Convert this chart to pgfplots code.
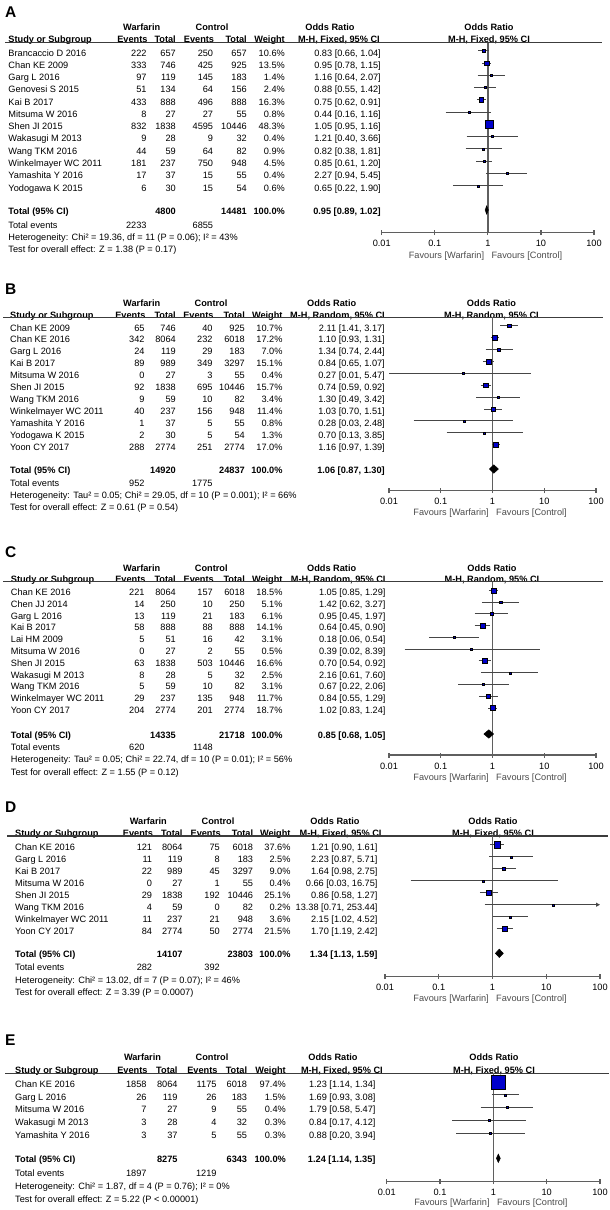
\documentclass[border=0pt]{standalone}
\usepackage{fontspec}
\setmainfont{Liberation Sans}
\usepackage{pgfplots}
\pgfplotsset{compat=1.18}
\usetikzlibrary{arrows.meta}
\definecolor{sqblue}{RGB}{0,0,204}
\definecolor{cigray}{RGB}{70,70,70}
\definecolor{axgray}{RGB}{95,95,95}
\definecolor{rulegray}{RGB}{60,60,60}
\definecolor{favgray}{RGB}{75,75,75}
\newcommand\fs{\fontsize{9.2}{11}\selectfont}
\newcommand\cols[7]{\def\cN{#1}\def\cEa{#2}\def\cTa{#3}\def\cEb{#4}\def\cTb{#5}\def\cW{#6}\def\cCI{#7}}
\newcommand\heads[8]{%
 \node[anchor=base, font=\fs\bfseries] at (#3,#1+3.3) {Warfarin};
 \node[anchor=base, font=\fs\bfseries] at (#4,#1+3.3) {Control};
 \node[anchor=base, font=\fs\bfseries] at (#5,#1+3.3) {Odds Ratio};
 \node[anchor=base, font=\fs\bfseries] at (#7,#1+3.3) {Odds Ratio};
 \node[anchor=base west, font=\fs\bfseries] at (\cN,#2+3.3) {Study or Subgroup};
 \node[anchor=base east, font=\fs\bfseries] at (\cEa+1,#2+3.3) {Events};
 \node[anchor=base east, font=\fs\bfseries] at (\cTa,#2+3.3) {Total};
 \node[anchor=base east, font=\fs\bfseries] at (\cEb+1,#2+3.3) {Events};
 \node[anchor=base east, font=\fs\bfseries] at (\cTb,#2+3.3) {Total};
 \node[anchor=base east, font=\fs\bfseries] at (\cW,#2+3.3) {Weight};
 \node[anchor=base east, font=\fs\bfseries] at (#6,#2+3.3) {M-H, #8, 95\% CI};
 \node[anchor=base, font=\fs\bfseries] at (#7,#2+3.3) {M-H, #8, 95\% CI};
}
\newcommand\row[8]{%
 \node[anchor=base west] at (\cN,#1+3.3) {#2};
 \node[anchor=base east] at (\cEa,#1+3.3) {#3};
 \node[anchor=base east] at (\cTa,#1+3.3) {#4};
 \node[anchor=base east] at (\cEb,#1+3.3) {#5};
 \node[anchor=base east] at (\cTb,#1+3.3) {#6};
 \node[anchor=base east] at (\cW,#1+3.3) {#7\%};
 \node[anchor=base east] at (\cCI,#1+3.3) {#8};
}
\newcommand\tot[4]{%
 \node[anchor=base west, font=\fs\bfseries] at (\cN,#1+3.3) {Total (95\% CI)};
 \node[anchor=base east, font=\fs\bfseries] at (\cTa,#1+3.3) {#2};
 \node[anchor=base east, font=\fs\bfseries] at (\cTb,#1+3.3) {#3};
 \node[anchor=base east, font=\fs\bfseries] at (\cW,#1+3.3) {100.0\%};
 \node[anchor=base east, font=\fs\bfseries] at (\cCI,#1+3.3) {#4};
}
\newcommand\tev[3]{%
 \node[anchor=base west] at (\cN,#1+3.3) {Total events};
 \node[anchor=base east] at (\cEa,#1+3.3) {#2};
 \node[anchor=base east] at (\cEb,#1+3.3) {#3};
}
\newcommand\txt[2]{\node[anchor=base west] at (\cN,#1+3.3) {#2};}
\newcommand\fav[2]{%
 \node[anchor=base east, text=favgray] at (#1-3.5,#2+3.3) {Favours [Warfarin]};
 \node[anchor=base west, text=favgray] at (#1+3.5,#2+3.3) {Favours [Control]};
}
\newcommand\plab[3]{\node[anchor=west, font=\fontsize{15.5}{16}\selectfont\bfseries] at (#1,#2) {#3};}
\newcommand\fp[5]{%
 \pgfmathsetmacro\yy{2-#1}%
 \edef\tmp{\noexpand\addplot[no markers, draw=cigray, line width=0.9pt] coordinates {(#3,\yy) (#4,\yy)};}\tmp
 \edef\tmp{\noexpand\addplot[only marks, mark=square*, mark options={draw=none, fill=sqblue}, mark size=#5pt] coordinates {(#2,\yy)};}\tmp
}
\newcommand\fparrow[5]{%
 \pgfmathsetmacro\yy{2-#1}%
 \edef\tmp{\noexpand\addplot[no markers, draw=cigray, line width=0.9pt, -{Triangle[length=4pt,width=4pt]}] coordinates {(#3,\yy) (#4,\yy)};}\tmp
 \edef\tmp{\noexpand\addplot[only marks, mark=square*, mark options={draw=none, fill=sqblue}, mark size=#5pt] coordinates {(#2,\yy)};}\tmp
}
\newcommand\dia[4]{%
 \pgfmathsetmacro\yy{1-#1}\pgfmathsetmacro\yt{\yy+4.2}\pgfmathsetmacro\yb{\yy-4.2}%
 \edef\tmp{\noexpand\addplot[no markers, fill=black, draw=black, line width=0.5pt] coordinates {(#3,\yy) (#2,\yt) (#4,\yy) (#2,\yb) (#3,\yy)};}\tmp
}
\newcommand\oneline[2]{\addplot[no markers, draw=axgray, line width=1.3pt] coordinates {(1,#1) (1,#2)};}
\begin{document}
\begin{tikzpicture}
\path[use as bounding box] (0pt,0pt) rectangle (610pt,-1210pt);
\begin{scope}[x=1pt, y=-1pt, font=\fs, every node/.style={inner sep=0pt}]
% ---------------- Panel A
\plab{5}{11.7}{A}
\cols{8.3}{146.7}{176}{213.3}{247}{285}{381}
\heads{26.7}{39.3}{141.7}{212}{330}{380}{489}{Fixed}
\draw[rulegray, line width=1.3pt] (5,42.5) -- (602,42.5);
\row{52.7}{Brancaccio D 2016}{222}{657}{250}{657}{10.6}{0.83 [0.66, 1.04]}
\row{65.0}{Chan KE 2009}{333}{746}{425}{925}{13.5}{0.95 [0.78, 1.15]}
\row{77.2}{Garg L 2016}{97}{119}{145}{183}{1.4}{1.16 [0.64, 2.07]}
\row{89.5}{Genovesi S 2015}{51}{134}{64}{156}{2.4}{0.88 [0.55, 1.42]}
\row{101.8}{Kai B 2017}{433}{888}{496}{888}{16.3}{0.75 [0.62, 0.91]}
\row{114.0}{Mitsuma W 2016}{8}{27}{27}{55}{0.8}{0.44 [0.16, 1.16]}
\row{126.3}{Shen JI 2015}{832}{1838}{4595}{10446}{48.3}{1.05 [0.95, 1.16]}
\row{138.6}{Wakasugi M 2013}{9}{28}{9}{32}{0.4}{1.21 [0.40, 3.66]}
\row{150.9}{Wang TKM 2016}{44}{59}{64}{82}{0.9}{0.82 [0.38, 1.81]}
\row{163.1}{Winkelmayer WC 2011}{181}{237}{750}{948}{4.5}{0.85 [0.61, 1.20]}
\row{175.4}{Yamashita Y 2016}{17}{37}{15}{55}{0.4}{2.27 [0.94, 5.45]}
\row{187.7}{Yodogawa K 2015}{6}{30}{15}{54}{0.6}{0.65 [0.22, 1.90]}
\tot{211}{4800}{14481}{0.95 [0.89, 1.02]}
\tev{224.7}{2233}{6855}
\txt{237}{Heterogeneity: Chi² = 19.36, df = 11 (P = 0.06); I² = 43\%}
\txt{249.3}{Test for overall effect: Z = 1.38 (P = 0.17)}
\fav{487.85}{255}
% ---------------- Panel B
\plab{5}{289}{B}
\cols{10}{144.7}{176}{212.7}{245}{282.7}{385}
\heads{302.7}{315}{141.7}{211}{331.7}{385}{491.5}{Random}
\draw[rulegray, line width=1.3pt] (3,317.3) -- (603,317.3);
\row{327.7}{Chan KE 2009}{65}{746}{40}{925}{10.7}{2.11 [1.41, 3.17]}
\row{339.6}{Chan KE 2016}{342}{8064}{232}{6018}{17.2}{1.10 [0.93, 1.31]}
\row{351.5}{Garg L 2016}{24}{119}{29}{183}{7.0}{1.34 [0.74, 2.44]}
\row{363.4}{Kai B 2017}{89}{989}{349}{3297}{15.1}{0.84 [0.65, 1.07]}
\row{375.3}{Mitsuma W 2016}{0}{27}{3}{55}{0.4}{0.27 [0.01, 5.47]}
\row{387.2}{Shen JI 2015}{92}{1838}{695}{10446}{15.7}{0.74 [0.59, 0.92]}
\row{399.1}{Wang TKM 2016}{9}{59}{10}{82}{3.4}{1.30 [0.49, 3.42]}
\row{411.0}{Winkelmayer WC 2011}{40}{237}{156}{948}{11.4}{1.03 [0.70, 1.51]}
\row{422.9}{Yamashita Y 2016}{1}{37}{5}{55}{0.8}{0.28 [0.03, 2.48]}
\row{434.8}{Yodogawa K 2015}{2}{30}{5}{54}{1.3}{0.70 [0.13, 3.85]}
\row{446.7}{Yoon CY 2017}{288}{2774}{251}{2774}{17.0}{1.16 [0.97, 1.39]}
\tot{470}{14920}{24837}{1.06 [0.87, 1.30]}
\tev{483.3}{952}{1775}
\txt{495}{Heterogeneity: Tau² = 0.05; Chi² = 29.05, df = 10 (P = 0.001); I² = 66\%}
\txt{506.7}{Test for overall effect: Z = 0.61 (P = 0.54)}
\fav{492.5}{512.3}
% ---------------- Panel C
\plab{5}{552}{C}
\cols{10.7}{144.7}{176}{213}{245}{282.7}{385.7}
\heads{567.7}{579.3}{141.7}{211.3}{331.7}{385.7}{492}{Random}
\draw[rulegray, line width=1.3pt] (3,581.7) -- (603,581.7);
\row{592.3}{Chan KE 2016}{221}{8064}{157}{6018}{18.5}{1.05 [0.85, 1.29]}
\row{604.1}{Chen JJ 2014}{14}{250}{10}{250}{5.1}{1.42 [0.62, 3.27]}
\row{615.8}{Garg L 2016}{13}{119}{21}{183}{6.1}{0.95 [0.45, 1.97]}
\row{627.6}{Kai B 2017}{58}{888}{88}{888}{14.1}{0.64 [0.45, 0.90]}
\row{639.4}{Lai HM 2009}{5}{51}{16}{42}{3.1}{0.18 [0.06, 0.54]}
\row{651.2}{Mitsuma W 2016}{0}{27}{2}{55}{0.5}{0.39 [0.02, 8.39]}
\row{662.9}{Shen JI 2015}{63}{1838}{503}{10446}{16.6}{0.70 [0.54, 0.92]}
\row{674.7}{Wakasugi M 2013}{8}{28}{5}{32}{2.5}{2.16 [0.61, 7.60]}
\row{686.5}{Wang TKM 2016}{5}{59}{10}{82}{3.1}{0.67 [0.22, 2.06]}
\row{698.2}{Winkelmayer WC 2011}{29}{237}{135}{948}{11.7}{0.84 [0.55, 1.29]}
\row{710.0}{Yoon CY 2017}{204}{2774}{201}{2774}{18.7}{1.02 [0.83, 1.24]}
\tot{735}{14335}{21718}{0.85 [0.68, 1.05]}
\tev{747.3}{620}{1148}
\txt{759.3}{Heterogeneity: Tau² = 0.05; Chi² = 22.74, df = 10 (P = 0.01); I² = 56\%}
\txt{772.3}{Test for overall effect: Z = 1.55 (P = 0.12)}
\fav{492.5}{776.7}
% ---------------- Panel D
\plab{5}{807.5}{D}
\cols{15}{152.3}{182.7}{220}{253.3}{290.7}{377.7}
\heads{820.7}{833.3}{148.3}{218}{335}{381.7}{493}{Fixed}
\draw[rulegray, line width=1.3pt] (7,836) -- (608,836);
\row{846.7}{Chan KE 2016}{121}{8064}{75}{6018}{37.6}{1.21 [0.90, 1.61]}
\row{858.7}{Garg L 2016}{11}{119}{8}{183}{2.5}{2.23 [0.87, 5.71]}
\row{870.7}{Kai B 2017}{22}{989}{45}{3297}{9.0}{1.64 [0.98, 2.75]}
\row{882.7}{Mitsuma W 2016}{0}{27}{1}{55}{0.4}{0.66 [0.03, 16.75]}
\row{894.7}{Shen JI 2015}{29}{1838}{192}{10446}{25.1}{0.86 [0.58, 1.27]}
\row{906.7}{Wang TKM 2016}{4}{59}{0}{82}{0.2}{13.38 [0.71, 253.44]}
\row{918.7}{Winkelmayer WC 2011}{11}{237}{21}{948}{3.6}{2.15 [1.02, 4.52]}
\row{930.7}{Yoon CY 2017}{84}{2774}{50}{2774}{21.5}{1.70 [1.19, 2.42]}
\tot{954.3}{14107}{23803}{1.34 [1.13, 1.59]}
\tev{967.3}{282}{392}
\txt{979.7}{Heterogeneity: Chi² = 13.02, df = 7 (P = 0.07); I² = 46\%}
\txt{991.7}{Test for overall effect: Z = 3.39 (P = 0.0007)}
\fav{492.5}{998}
% ---------------- Panel E
\plab{5}{1040.3}{E}
\cols{15}{146.7}{177.7}{216.7}{247.3}{286}{375.7}
\heads{1057.3}{1070}{142.5}{212}{333}{383}{494}{Fixed}
\draw[rulegray, line width=1.3pt] (5,1073.3) -- (609,1073.3);
\row{1084}{Chan KE 2016}{1858}{8064}{1175}{6018}{97.4}{1.23 [1.14, 1.34]}
\row{1096.75}{Garg L 2016}{26}{119}{26}{183}{1.5}{1.69 [0.93, 3.08]}
\row{1109.5}{Mitsuma W 2016}{7}{27}{9}{55}{0.4}{1.79 [0.58, 5.47]}
\row{1122.25}{Wakasugi M 2013}{3}{28}{4}{32}{0.3}{0.84 [0.17, 4.12]}
\row{1135}{Yamashita Y 2016}{3}{37}{5}{55}{0.3}{0.88 [0.20, 3.94]}
\tot{1159.3}{8275}{6343}{1.24 [1.14, 1.35]}
\tev{1172.7}{1897}{1219}
\txt{1185.7}{Heterogeneity: Chi² = 1.87, df = 4 (P = 0.76); I² = 0\%}
\txt{1199}{Test for overall effect: Z = 5.22 (P < 0.00001)}
\fav{493.3}{1201.7}
\end{scope}
% ================= forest axes
\begin{axis}[scale only axis, xmode=log, xmin=0.01, xmax=100, enlargelimits=false, clip=false,
  axis x line*=bottom, axis y line=none,
  xtick={0.01,0.1,1,10,100}, xticklabels={0.01,0.1,1,10,100}, xminorticks=false,
  tick align=center, major tick length=5pt,
  axis line style={draw=axgray, line width=1.3pt},
  tick style={draw=axgray, line width=1.2pt},
  xticklabel style={font=\fs, anchor=base, yshift=-11.5pt},
  anchor=south west,
  at={(381.7pt,-232.7pt)}, width=212.3pt, height=190.2pt, ymin=-232.7, ymax=-42.5]
\oneline{-232.7}{-42.5}
\fp{52.7}{0.83}{0.66}{1.04}{1.8}
\fp{65.0}{0.95}{0.78}{1.15}{2.05}
\fp{77.2}{1.16}{0.64}{2.07}{1.0}
\fp{89.5}{0.88}{0.55}{1.42}{1.0}
\fp{101.8}{0.75}{0.62}{0.91}{2.25}
\fp{114.0}{0.44}{0.16}{1.16}{1.0}
\fp{126.3}{1.05}{0.95}{1.16}{3.85}
\fp{138.6}{1.21}{0.40}{3.66}{1.0}
\fp{150.9}{0.82}{0.38}{1.81}{1.0}
\fp{163.1}{0.85}{0.61}{1.20}{1.2}
\fp{175.4}{2.27}{0.94}{5.45}{1.0}
\fp{187.7}{0.65}{0.22}{1.90}{1.0}
\dia{211}{0.95}{0.89}{1.02}
\end{axis}
\begin{axis}[scale only axis, xmode=log, xmin=0.01, xmax=100, enlargelimits=false, clip=false,
  axis x line*=bottom, axis y line=none,
  xtick={0.01,0.1,1,10,100}, xticklabels={0.01,0.1,1,10,100}, xminorticks=false,
  tick align=center, major tick length=5pt,
  axis line style={draw=axgray, line width=1.3pt},
  tick style={draw=axgray, line width=1.2pt},
  xticklabel style={font=\fs, anchor=base, yshift=-11.5pt},
  anchor=south west,
  at={(389pt,-490.5pt)}, width=207pt, height=173.2pt, ymin=-490.5, ymax=-317.3]
\oneline{-490.5}{-317.3}
\fp{327.7}{2.11}{1.41}{3.17}{1.95}
\fp{339.6}{1.10}{0.93}{1.31}{2.5}
\fp{351.5}{1.34}{0.74}{2.44}{1.6}
\fp{363.4}{0.84}{0.65}{1.07}{2.35}
\fp{375.3}{0.27}{0.01}{5.47}{1.0}
\fp{387.2}{0.74}{0.59}{0.92}{2.4}
\fp{399.1}{1.30}{0.49}{3.42}{1.1}
\fp{411.0}{1.03}{0.70}{1.51}{2.0}
\fp{422.9}{0.28}{0.03}{2.48}{1.0}
\fp{434.8}{0.70}{0.13}{3.85}{1.0}
\fp{446.7}{1.16}{0.97}{1.39}{2.5}
\dia{470}{1.06}{0.87}{1.30}
\end{axis}
\begin{axis}[scale only axis, xmode=log, xmin=0.01, xmax=100, enlargelimits=false, clip=false,
  axis x line*=bottom, axis y line=none,
  xtick={0.01,0.1,1,10,100}, xticklabels={0.01,0.1,1,10,100}, xminorticks=false,
  tick align=center, major tick length=5pt,
  axis line style={draw=axgray, line width=1.3pt},
  tick style={draw=axgray, line width=1.2pt},
  xticklabel style={font=\fs, anchor=base, yshift=-11.5pt},
  anchor=south west,
  at={(389pt,-755pt)}, width=207pt, height=173.3pt, ymin=-755, ymax=-581.7]
\oneline{-755}{-581.7}
\fp{592.3}{1.05}{0.85}{1.29}{2.6}
\fp{604.1}{1.42}{0.62}{3.27}{1.35}
\fp{615.8}{0.95}{0.45}{1.97}{1.5}
\fp{627.6}{0.64}{0.45}{0.90}{2.25}
\fp{639.4}{0.18}{0.06}{0.54}{1.05}
\fp{651.2}{0.39}{0.02}{8.39}{1.0}
\fp{662.9}{0.70}{0.54}{0.92}{2.45}
\fp{674.7}{2.16}{0.61}{7.60}{1.0}
\fp{686.5}{0.67}{0.22}{2.06}{1.05}
\fp{698.2}{0.84}{0.55}{1.29}{2.05}
\fp{710.0}{1.02}{0.83}{1.24}{2.6}
\dia{735}{0.85}{0.68}{1.05}
\end{axis}
\begin{axis}[scale only axis, xmode=log, xmin=0.01, xmax=100, enlargelimits=false, clip=false,
  axis x line*=bottom, axis y line=none,
  xtick={0.01,0.1,1,10,100}, xticklabels={0.01,0.1,1,10,100}, xminorticks=false,
  tick align=center, major tick length=5pt,
  axis line style={draw=axgray, line width=1.3pt},
  tick style={draw=axgray, line width=1.2pt},
  xticklabel style={font=\fs, anchor=base, yshift=-11.5pt},
  anchor=south west,
  at={(385pt,-976.7pt)}, width=215pt, height=140.7pt, ymin=-976.7, ymax=-836]
\oneline{-976.7}{-836}
\fp{846.7}{1.21}{0.90}{1.61}{3.05}
\fp{858.7}{2.23}{0.87}{5.71}{1.0}
\fp{870.7}{1.64}{0.98}{2.75}{1.5}
\fp{882.7}{0.66}{0.03}{16.75}{1.0}
\fp{894.7}{0.86}{0.58}{1.27}{2.5}
\fparrow{906.7}{13.38}{0.71}{100}{1.0}
\fp{918.7}{2.15}{1.02}{4.52}{1.0}
\fp{930.7}{1.70}{1.19}{2.42}{2.3}
\dia{954.3}{1.34}{1.13}{1.59}
\end{axis}
\begin{axis}[scale only axis, xmode=log, xmin=0.01, xmax=100, enlargelimits=false, clip=false,
  axis x line*=bottom, axis y line=none,
  xtick={0.01,0.1,1,10,100}, xticklabels={0.01,0.1,1,10,100}, xminorticks=false,
  tick align=center, major tick length=5pt,
  axis line style={draw=axgray, line width=1.3pt},
  tick style={draw=axgray, line width=1.2pt},
  xticklabel style={font=\fs, anchor=base, yshift=-11.5pt},
  anchor=south west,
  at={(386.7pt,-1181.7pt)}, width=213.3pt, height=108.4pt, ymin=-1181.7, ymax=-1073.3]
\oneline{-1181.7}{-1073.3}
\fp{1084}{1.23}{1.14}{1.34}{7.0}
\fp{1096.75}{1.69}{0.93}{3.08}{1.0}
\fp{1109.5}{1.79}{0.58}{5.47}{1.0}
\fp{1122.25}{0.84}{0.17}{4.12}{1.0}
\fp{1135}{0.88}{0.20}{3.94}{1.0}
\dia{1159.3}{1.24}{1.14}{1.35}
\end{axis}
\end{tikzpicture}
\end{document}
